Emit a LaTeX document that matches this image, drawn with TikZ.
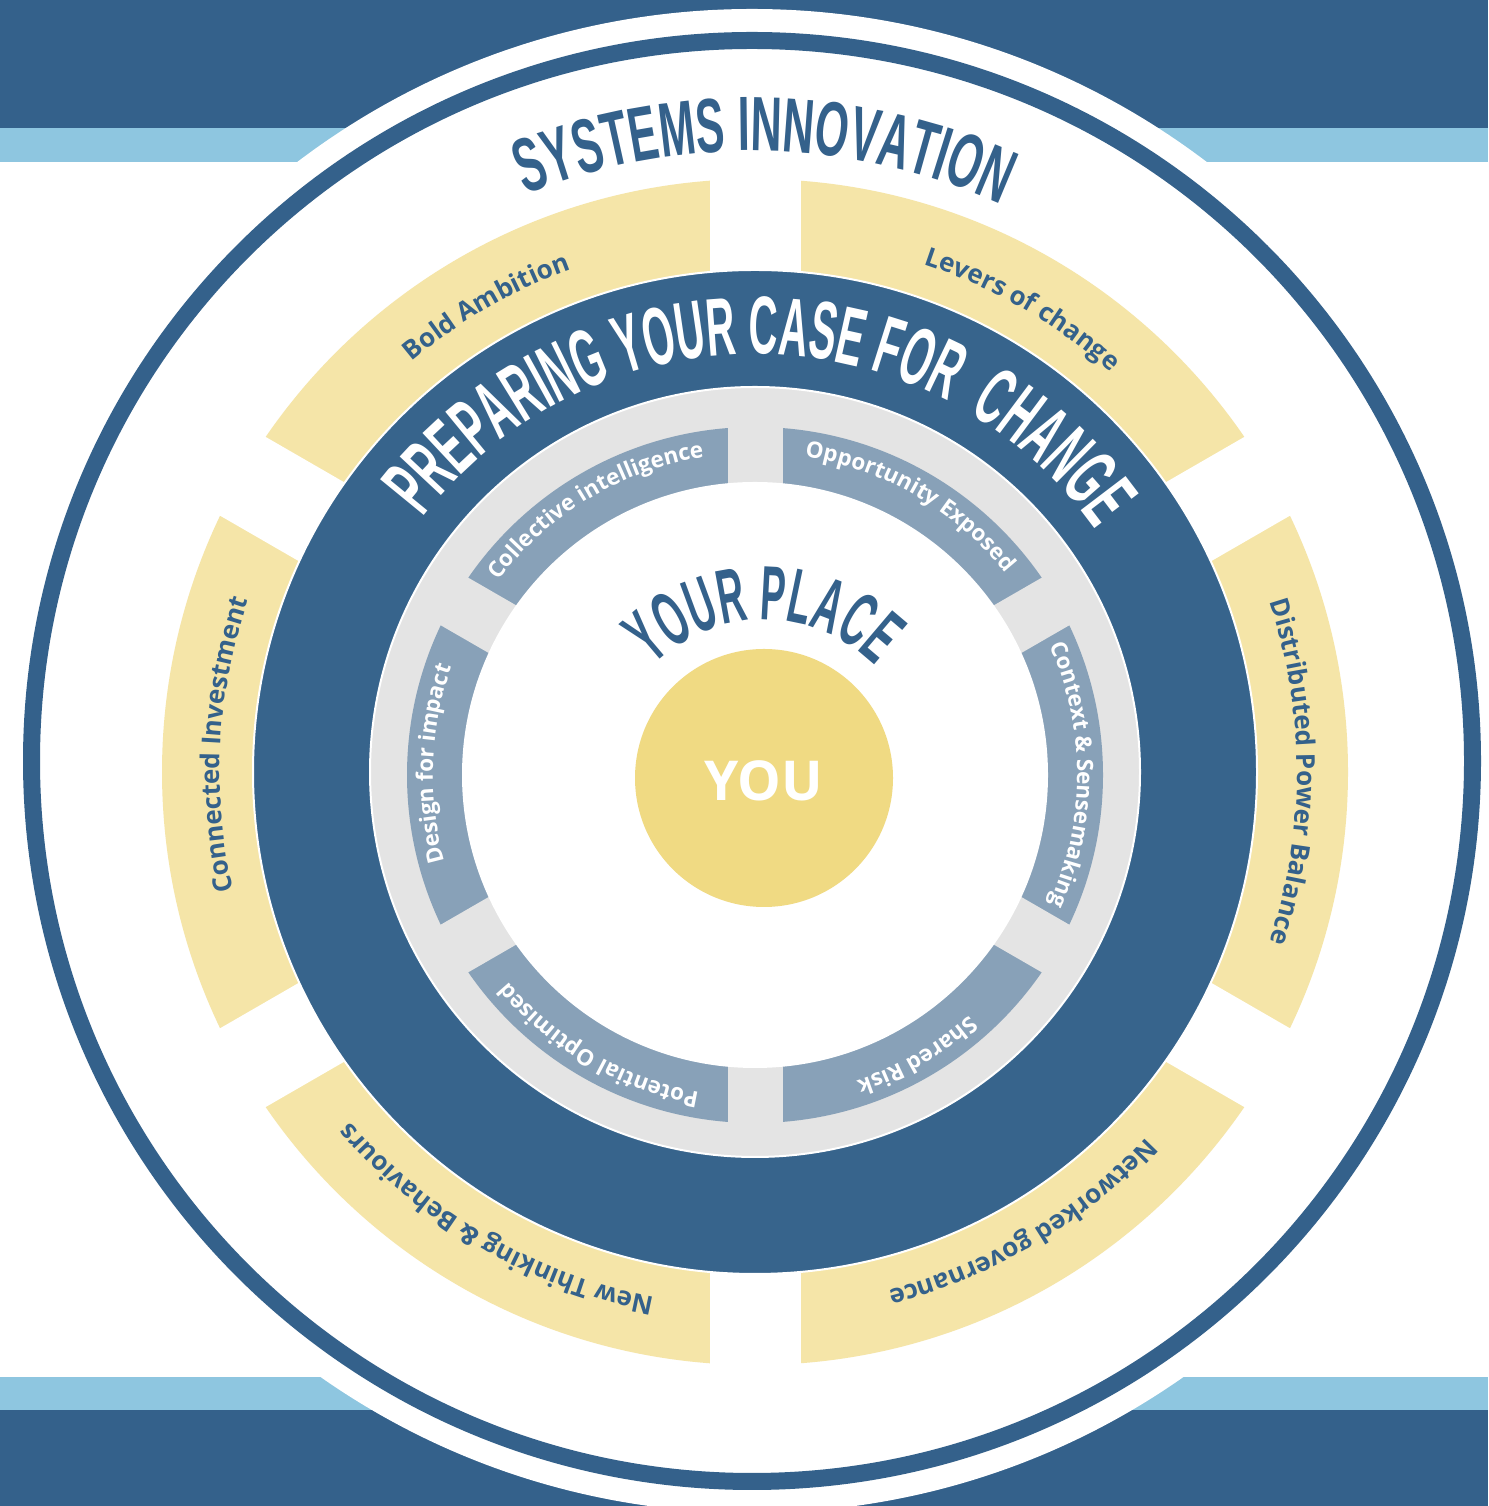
\documentclass[tikz,border=0pt]{standalone}
\usepackage{fontspec}
\usetikzlibrary{decorations.text,calc}
\setmainfont{Open Sans}
\newfontfamily\bebasfam[FakeStretch=0.49]{Liberation Sans}
\newfontfamily\bebaswide[FakeStretch=0.56]{Liberation Sans}
\newfontfamily\labfam{Open Sans}
\definecolor{dblue}{RGB}{52,97,139}
\definecolor{rblue}{RGB}{55,100,140}
\definecolor{lblue}{RGB}{142,198,224}
\definecolor{ysoft}{RGB}{245,229,168}
\definecolor{ystrong}{RGB}{240,218,131}
\definecolor{ringgray}{RGB}{228,228,228}
\definecolor{slate}{RGB}{136,161,184}
\newcommand\bigPrep{\bebasfam\bfseries\fontsize{82}{82}\selectfont\color{white}}
\newcommand\bigSys{\bebaswide\bfseries\fontsize{77}{77}\selectfont\color{dblue}}
\newcommand\bigPlace{\bebasfam\bfseries\fontsize{77}{77}\selectfont\color{dblue}}
\newcommand\labY{\labfam\bfseries\fontsize{26}{26}\selectfont\color{dblue}}
\newcommand\labS{\labfam\bfseries\fontsize{22.5}{22.5}\selectfont\color{white}}
\tikzset{
  arctext/.style={decorate, decoration={text along path, text align=center, text={#1}}},
}
\begin{document}
\begin{tikzpicture}[x=1pt,y=1pt]
\useasboundingbox (0,0) rectangle (1488,1506);
\fill[white] (0,0) rectangle (1488,1506);
\fill[dblue] (0,1378) rectangle (1488,1506);
\fill[lblue] (0,1344) rectangle (1488,1378);
\fill[lblue] (0,96) rectangle (1488,129);
\fill[dblue] (0,0) rectangle (1488,96);
\coordinate (O) at (752,745);
\coordinate (C) at (755,734);
\coordinate (S) at (755,731);
\coordinate (Y) at (764,728);
% outer halo and ring
\fill[white] (O) circle[radius=752];
\draw[dblue, line width=17] (O) circle[radius=720.5];
% yellow segments
\fill[ysoft] (C) circle[radius=593];
\foreach \a in {90,30,150} \fill[white, shift={(C)}, rotate=\a] (-600,-45.5) rectangle (600,45.5);
% dark ring
\fill[rblue, draw=white, line width=2] (C) circle[radius=502];
% gray ring and slate segments
\fill[ringgray, draw=white, line width=2] (C) circle[radius=385];
\fill[slate] (S) circle[radius=348];
\foreach \a in {90,30,150} \fill[ringgray, shift={(S)}, rotate=\a] (-355,-27.5) rectangle (355,27.5);
\fill[white] (S) circle[radius=293];
% centre
\fill[ystrong] (Y) circle[radius=129];
\node[font=\labfam\bfseries\fontsize{55}{55}\selectfont, text=white] (you) at ($(Y)+(0,-3)$) {YOU};
% big arc titles
\path[arctext={|\bigSys|SYSTEMS INNOVATION}] ($(O)+(168.8:610)$) arc[start angle=168.8, end angle=8.8, radius=610];
\path[arctext={|\bigPrep|PREPARING YOUR CASE FOR{\hspace*{12pt}} CHANGE}] ($(C)+(174:418)$) arc[start angle=174, end angle=4, radius=418];
\path[arctext={|\bigPlace|YOUR PLACE}] ($(Y)+(170:158)$) arc[start angle=170, end angle=10, radius=158];
% yellow labels
\path[arctext={|\labY|Bold Ambition}] ($(C)+(190:535)$) arc[start angle=190, end angle=50, radius=535];
\path[arctext={|\labY|Levers of change}] ($(C)+(130:535)$) arc[start angle=130, end angle=-10, radius=535];
\path[arctext={|\labY|Distributed Power Balance}] ($(C)+(70:542)$) arc[start angle=70, end angle=-70, radius=542];
\path[arctext={|\labY|Networked governance}] ($(C)+(10.7:535)$) arc[start angle=10.7, end angle=-129.3, radius=535];
\path[arctext={|\labY|New Thinking {\&} Behaviours}] ($(C)+(-50:535)$) arc[start angle=-50, end angle=-190, radius=535];
\path[arctext={|\labY|Connected Investment}] ($(C)+(247:535)$) arc[start angle=247, end angle=107, radius=535];
% slate labels
\path[arctext={|\labS|Collective intelligence}] ($(S)+(191:322)$) arc[start angle=191, end angle=51, radius=322];
\path[arctext={|\labS|Opportunity Exposed}] ($(S)+(130:322)$) arc[start angle=130, end angle=-10, radius=322];
\path[arctext={|\labS|Context {\&} Sensemaking}] ($(S)+(70:322)$) arc[start angle=70, end angle=-70, radius=322];
\path[arctext={|\labS|Shared Risk}] ($(S)+(10:322)$) arc[start angle=10, end angle=-130, radius=322];
\path[arctext={|\labS|Potential Optimised}] ($(S)+(-50:322)$) arc[start angle=-50, end angle=-190, radius=322];
\path[arctext={|\labS|Design for impact}] ($(S)+(248:322)$) arc[start angle=248, end angle=108, radius=322];
\end{tikzpicture}
\end{document}
